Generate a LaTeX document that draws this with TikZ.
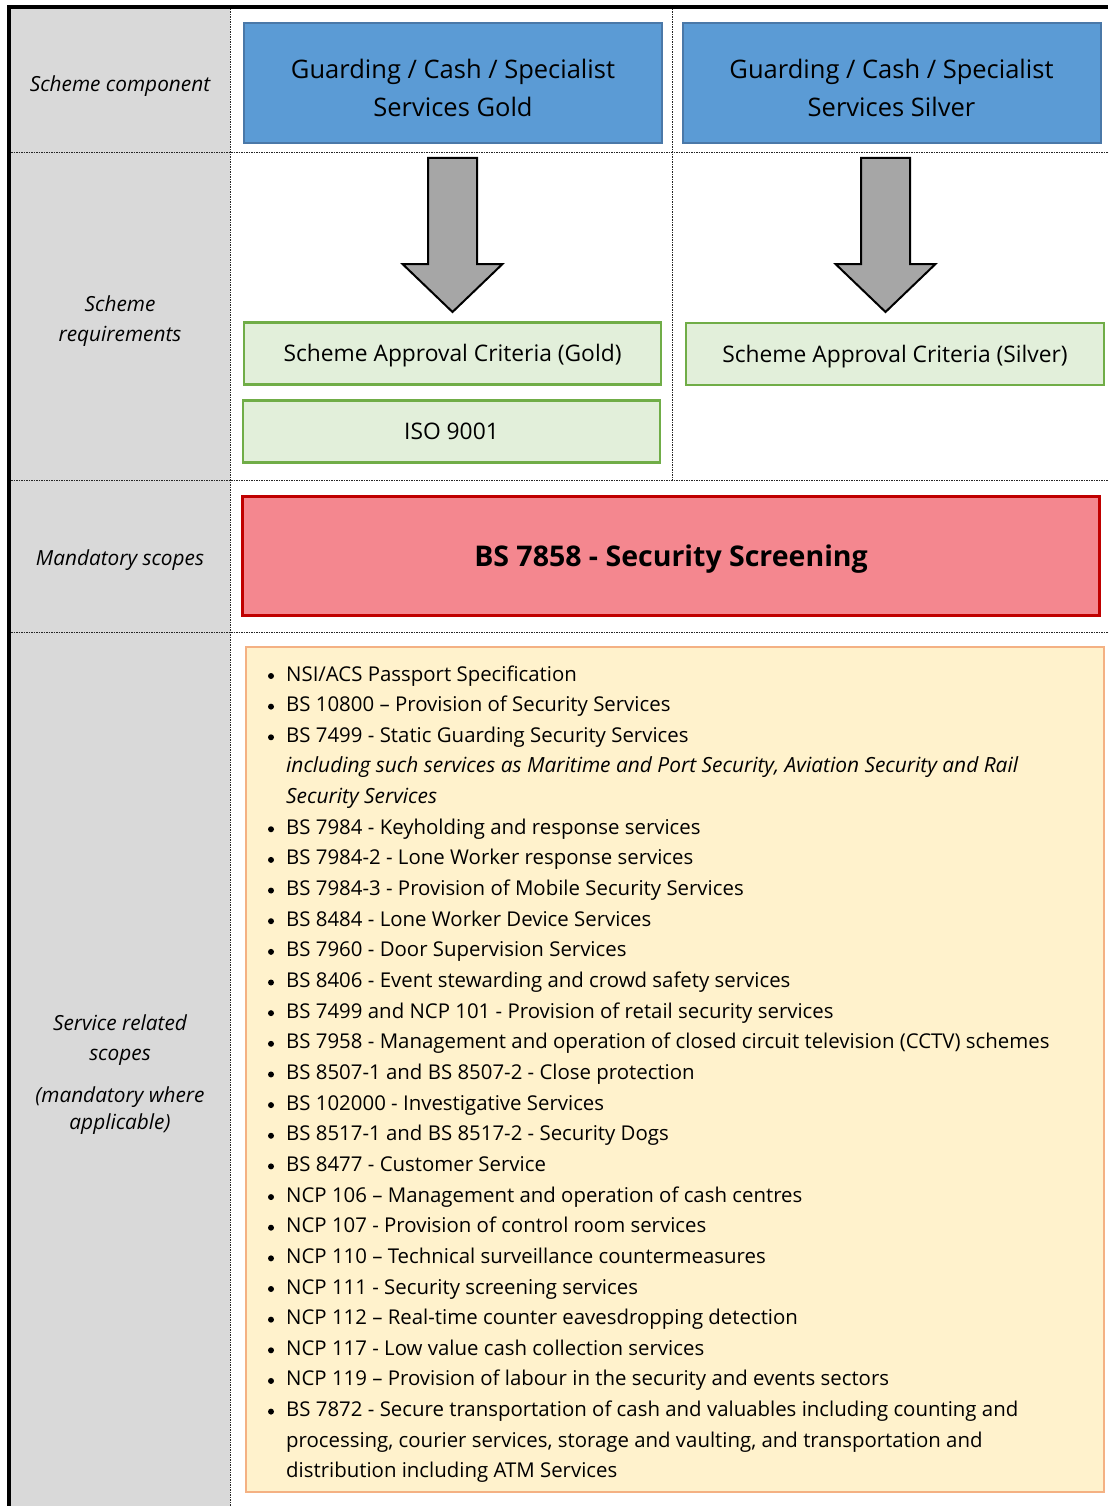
\documentclass[tikz,border=0pt]{standalone}
\usepackage{fontspec}
\setmainfont{Open Sans}
\definecolor{greycol}{HTML}{D9D9D9}
\definecolor{bluefill}{HTML}{5B9BD5}
\definecolor{blueline}{HTML}{4A78A8}
\definecolor{greenfill}{HTML}{E2EFDA}
\definecolor{greenline}{HTML}{70AD47}
\definecolor{redfill}{HTML}{F4878F}
\definecolor{redline}{HTML}{C00000}
\definecolor{orfill}{HTML}{FFF2CC}
\definecolor{orline}{HTML}{F4B183}
\definecolor{arrowfill}{HTML}{A6A6A6}
\tikzset{
  gridline/.style={black!85, line width=1pt, dash pattern=on 1.5pt off 1pt},
  bluebox/.style={draw=blueline, fill=bluefill, line width=2pt, inner sep=0pt},
  bluetext/.style={align=center, inner sep=0pt, font=\fontsize{25.5}{38}\selectfont},
  greenbox/.style={draw=greenline, fill=greenfill, line width=2.5pt, inner sep=0pt,
    text height=16.3pt, text depth=0pt, font=\fontsize{22.8}{26}\selectfont},
  redbox/.style={draw=redline, fill=redfill, line width=2.5pt, inner sep=0pt,
    text height=20.3pt, text depth=0pt, font=\fontsize{28.5}{32}\bfseries\selectfont},
  orbox/.style={draw=orline, fill=orfill, line width=2.5pt, inner sep=0pt},
  sidelabel/.style={align=center, inner sep=0pt, font=\fontsize{20.8}{30}\itshape\selectfont},
  listtxt/.style={anchor=base west, inner sep=0pt, font=\fontsize{20.4}{24}\selectfont},
  bul/.style={circle, fill=black, inner sep=0pt, minimum size=6pt},
  blockarrow/.style={draw=black, fill=arrowfill, line width=2pt, line join=miter},
}
\newcommand\listline[3]{%
  \node[bul] (#1b) at (271,{681-5+(#2-1)*30.65}) {};
  \node[listtxt] (#1) at (286,{681+(#2-1)*30.65}) {#3};}
\newcommand\listcont[3]{%
  \node[listtxt] (#1) at (286,{681+(#2-1)*30.65}) {#3};}
\begin{document}
\begin{tikzpicture}[x=1pt, y=-1pt]
\useasboundingbox (0,0) rectangle (1108,1506);
% grey column
\fill[greycol] (11,9) rectangle (230,1506);
% grid lines
\draw[gridline] (11,153) -- (1108,153);
\draw[gridline] (11,480) -- (1108,480);
\draw[gridline] (11,632) -- (1108,632);
\draw[gridline] (230,9) -- (230,1506);
\draw[gridline] (672,9) -- (672,480);
% outer border
\draw[line width=4pt] (9,1506) -- (9,7) -- (1108,7);

% side labels
\node[sidelabel] (lcomp) at (120,86) {Scheme component};
\node[sidelabel] (lreq) at (120,321) {Scheme\\requirements};
\node[sidelabel] (lmand) at (120,560) {Mandatory scopes};
\node[sidelabel] (lserv) at (120,1040) {Service related\\scopes};
\node[sidelabel, font=\fontsize{20.8}{27}\itshape\selectfont] (lappl) at (120,1110.5) {(mandatory where\\applicable)};

% blue boxes
\node[bluebox, minimum width=418, minimum height=120] (gold) at (453,83) {};
\node[bluetext] (goldt) at (453,88) {Guarding / Cash / Specialist\\Services Gold};
\node[bluebox, minimum width=418, minimum height=120] (silver) at (891.5,83) {};
\node[bluetext] (silvert) at (891.5,88) {Guarding / Cash / Specialist\\Services Silver};

% block arrows
\draw[blockarrow] (428,158) -- (477,158) -- (477,264) -- (502.5,264) -- (452.5,312)
  -- (402.5,264) -- (428,264) -- cycle;
\draw[blockarrow] (861,158) -- (910,158) -- (910,264) -- (935.5,264) -- (885.5,312)
  -- (835.5,264) -- (861,264) -- cycle;

% green boxes
\node[greenbox, minimum width=417, minimum height=62] (sacg) at (452.5,353.5)
  {Scheme Approval Criteria (Gold)};
\node[greenbox, minimum width=417, minimum height=62] (iso) at (451.5,431.5)
  {ISO 9001};
\node[greenbox, minimum width=418, minimum height=62] (sacs) at (895,354)
  {Scheme Approval Criteria (Silver)};

% red box
\node[redbox, minimum width=857, minimum height=119] (bs7858) at (671,556)
  {BS 7858 - Security Screening};

% orange list box
\node[orbox, minimum width=858, minimum height=845] (listbox) at (675,1069.5) {};

\listline{i1}{1}{NSI/ACS Passport Specification}
\listline{i2}{2}{BS 10800 – Provision of Security Services}
\listline{i3}{3}{BS 7499 - Static Guarding Security Services}
\listcont{i3a}{4}{\fontsize{20.9}{24}\itshape including such services as Maritime and Port Security, Aviation Security and Rail}
\listcont{i3b}{5}{\fontsize{20.9}{24}\itshape Security Services}
\listline{i4}{6}{BS 7984 - Keyholding and response services}
\listline{i5}{7}{BS 7984-2 - Lone Worker response services}
\listline{i6}{8}{BS 7984-3 - Provision of Mobile Security Services}
\listline{i7}{9}{BS 8484 - Lone Worker Device Services}
\listline{i8}{10}{BS 7960 - Door Supervision Services}
\listline{i9}{11}{BS 8406 - Event stewarding and crowd safety services}
\listline{i10}{12}{BS 7499 and NCP 101 - Provision of retail security services}
\listline{i11}{13}{BS 7958 - Management and operation of closed circuit television (CCTV) schemes}
\listline{i12}{14}{BS 8507-1 and BS 8507-2 - Close protection}
\listline{i13}{15}{BS 102000 - Investigative Services}
\listline{i14}{16}{BS 8517-1 and BS 8517-2 - Security Dogs}
\listline{i15}{17}{BS 8477 - Customer Service}
\listline{i16}{18}{NCP 106 – Management and operation of cash centres}
\listline{i17}{19}{NCP 107 - Provision of control room services}
\listline{i18}{20}{NCP 110 – Technical surveillance countermeasures}
\listline{i19}{21}{NCP 111 - Security screening services}
\listline{i20}{22}{NCP 112 – Real-time counter eavesdropping detection}
\listline{i21}{23}{NCP 117 - Low value cash collection services}
\listline{i22}{24}{NCP 119 – Provision of labour in the security and events sectors}
\listline{i23}{25}{BS 7872 - Secure transportation of cash and valuables including counting and}
\listcont{i23a}{26}{processing, courier services, storage and vaulting, and transportation and}
\listcont{i23b}{27}{distribution including ATM Services}
\end{tikzpicture}
\end{document}
